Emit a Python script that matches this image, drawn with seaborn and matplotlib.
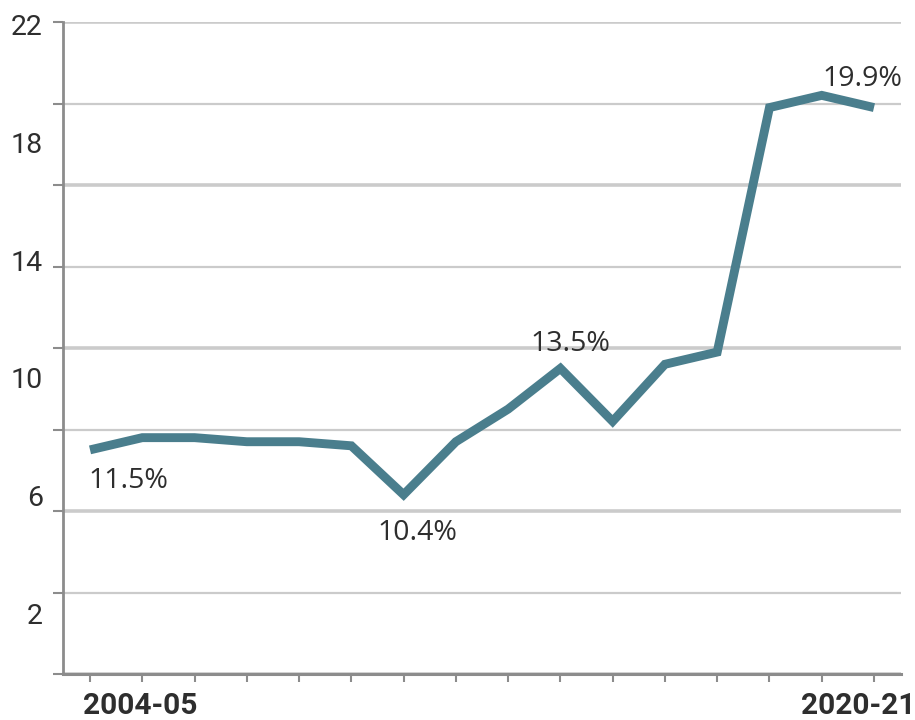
import numpy as np
import matplotlib
matplotlib.use("Agg")
import matplotlib.pyplot as plt
import seaborn as sns

# Share of spending, by fiscal year (per cent)
share = [11.5, 11.8, 11.8, 11.7, 11.7, 11.6, 10.4, 11.7, 12.5, 13.5,
         12.2, 13.6, 13.9, 19.9, 20.2, 19.9]
period_index = list(range(len(share)))

# Points that carry a value callout
callout_idx = [0, 6, 9, 15]

year_labels = ["2004-05", "2020-21"]
y_labels = ["2", "6", "10", "14", "18", "22"]

sns.set_theme(style="white")
plt.rcParams["font.family"] = ["Roboto", "DejaVu Sans"]

LINE = "#4a7e8d"
GRID = "#cbcbcb"
AXIS = "#8c8c8c"
TEXT = "#2e2e2e"

fig = plt.figure(figsize=(9.15, 7.2), dpi=100)
fig.patch.set_facecolor("white")
rect = [63 / 915, 1 - 674 / 720, (901 - 63) / 915, (674 - 22) / 720]
ax = fig.add_axes(rect)
ax.set_facecolor("white")

sns.lineplot(x=period_index, y=share, ax=ax, color=LINE, linewidth=6.4,
             solid_joinstyle="miter", solid_capstyle="butt", zorder=5)

ax.set_xlim(-0.517, len(share) - 1 + 0.517)
ax.set_ylim(6, 22)

# horizontal rules: heavier every 4 points, lighter in between
ax.set_yticks([6, 10, 14, 18, 22])
ax.set_yticks([8, 12, 16, 20], minor=True)
ax.yaxis.grid(True, which="major", color=GRID, linewidth=2.6, zorder=0)
ax.yaxis.grid(True, which="minor", color=GRID, linewidth=1.6, zorder=0)
ax.tick_params(axis="y", which="both", direction="out", length=7,
               width=1.5, color=AXIS, labelleft=False, left=True)

# year ticks at every point, labels only at the ends
ax.set_xticks(period_index, minor=True)
ax.tick_params(axis="x", which="minor", direction="out", length=6,
               width=1.5, color=AXIS, bottom=True)
ax.set_xticks([0.96, 14.7])
ax.set_xticklabels(year_labels, fontsize=21.5, fontweight="bold", color=TEXT)
ax.tick_params(axis="x", which="major", length=0, pad=13)

for side in ["top", "right"]:
    ax.spines[side].set_visible(False)
ax.spines["left"].set_color(AXIS)
ax.spines["left"].set_linewidth(2)
ax.spines["bottom"].set_color(AXIS)
ax.spines["bottom"].set_linewidth(2.2)
ax.set_xlabel("")
ax.set_ylabel("")

# value scale labels on the left
lab = ax.twinx()
lab.yaxis.tick_left()
lab.set_ylim(-0.07, 22.10)
lab.set_yticks([int(v) for v in y_labels])
lab.set_yticklabels(y_labels, fontsize=20.5, color=TEXT)
lab.tick_params(axis="y", length=0, pad=14.5, labelright=False, labelleft=True,
                right=False)
for s in lab.spines.values():
    s.set_visible(False)
lab.grid(False)

# callouts
offsets = {0: (27.4, -22.3), 6: (10.0, -27.4), 9: (7.2, 17.3), 15: (-8.6, 20.9)}
for i in callout_idx:
    v = share[i]
    ax.annotate(f"{v}%", xy=(period_index[i], v), xytext=offsets[i],
                textcoords="offset points", ha="center", va="center",
                fontsize=20.5, color=TEXT, zorder=6,
                family=["Open Sans", "DejaVu Sans"])

fig.savefig("out.png", dpi=100)
